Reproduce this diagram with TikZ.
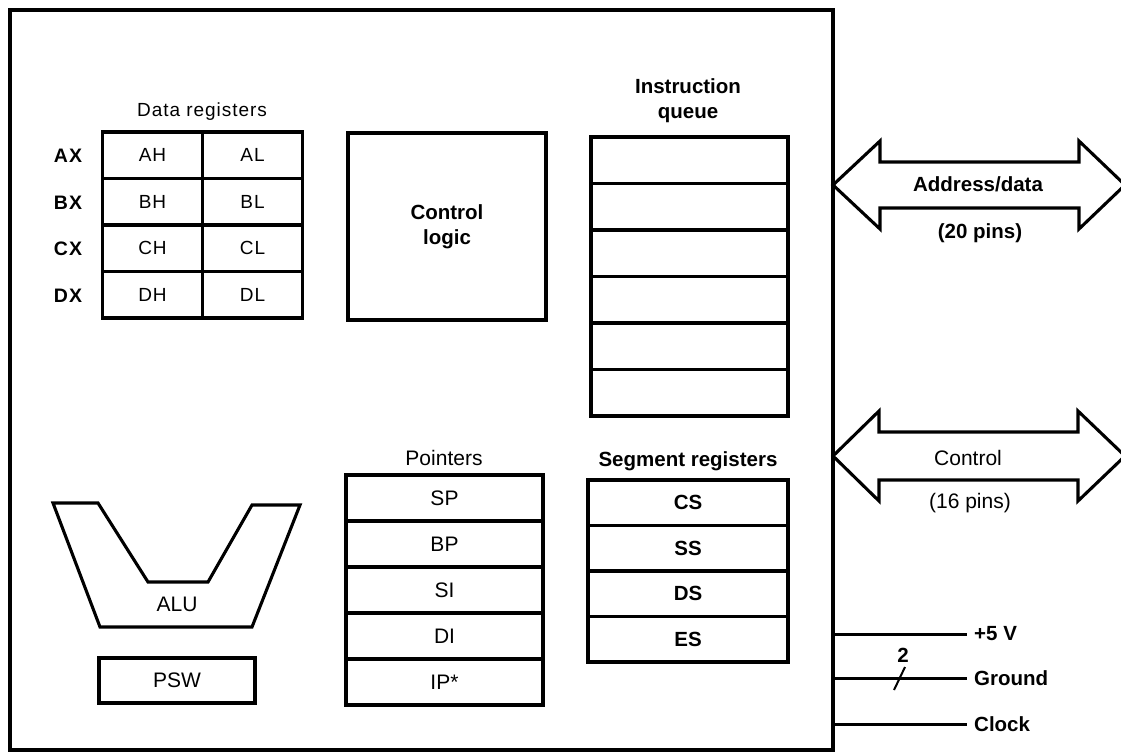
\documentclass[tikz,border=0pt]{standalone}
\usepackage{fontspec}
\setmainfont{Liberation Sans}
\newfontfamily\dataf[LetterSpace=5]{Liberation Sans}
\begin{document}
\begin{tikzpicture}[x=1pt,y=-1pt,
  lbl/.style={font=\fontsize{20.5}{25}\selectfont\bfseries, inner sep=0pt},
  txt/.style={font=\fontsize{21}{25}\selectfont, inner sep=0pt},
  dtxt/.style={font=\dataf\fontsize{19}{22}\selectfont, inner sep=0pt},
  dbold/.style={font=\dataf\bfseries\fontsize{19.5}{22}\selectfont, inner sep=0pt},
  cell/.style={draw, line width=3.1pt, inner sep=0pt, anchor=center},
  thick line/.style={line width=3.1pt, line join=miter},
  pinline/.style={line width=3pt}]
\useasboundingbox (0,0) rectangle (1121,754);

% chip outline
\node[draw, line width=3.3pt, minimum width=823pt, minimum height=740pt, inner sep=0pt] (chip) at (421.5,380) {};

% data registers
\node[dtxt, anchor=base] (dreg) at (202,117) {Data registers};
\foreach \r/\h/\l [count=\i] in {AX/AH/AL, BX/BH/BL, CX/CH/CL, DX/DH/DL}{
  \node[cell, dtxt, minimum width=100pt, minimum height=46.5pt] (\h) at (152.5,{132+46.5*(\i-0.5)}) {\h};
  \node[cell, dtxt, minimum width=100pt, minimum height=46.5pt] (\l) at (252.5,{132+46.5*(\i-0.5)}) {\l};
  \node[dbold] (\r) at (68,{133+46.5*(\i-0.5)}) {\r};
}

% control logic
\node[cell, lbl, minimum width=198pt, minimum height=187pt, align=center] (ctrl) at (447,226.5) {Control\\logic};

% instruction queue
\node[lbl, align=center, anchor=base] (iqlabel) at (688,119) {Instruction\\queue};
\foreach \i in {1,...,6}{
  \node[cell, minimum width=197pt, minimum height=46.5pt] (iq\i) at (689.5,{137+46.5*(\i-0.5)}) {};
}

% ALU and PSW
\draw[thick line] (53,503) -- (98,503) -- (148,582) -- (208,582) -- (252,505) -- (300,505) -- (252,627) -- (100,627) -- cycle;
\node[txt] (alu) at (177,604) {ALU};
\node[cell, txt, minimum width=156pt, minimum height=45pt] (psw) at (177,680.5) {PSW};

% pointers
\node[txt, anchor=base] (ptrlabel) at (444,465) {Pointers};
\foreach \n [count=\i] in {SP,BP,SI,DI,IP*}{
  \node[cell, txt, minimum width=197pt, minimum height=46pt] (p\i) at (444.5,{475+46*(\i-0.5)}) {\n};
}

% segment registers
\node[lbl, anchor=base] (seglabel) at (688,466) {Segment registers};
\foreach \n [count=\i] in {CS,SS,DS,ES}{
  \node[cell, lbl, minimum width=200pt, minimum height=45.5pt] (s\i) at (688,{480+45.5*(\i-0.5)}) {\n};
}

% address/data bus arrow
\draw[thick line] (833,185) -- (880,141) -- (880,162) -- (1079,162) -- (1079,141) -- (1125,185)
  -- (1079,229) -- (1079,208) -- (880,208) -- (880,229) -- cycle;
\node[lbl, anchor=base] (adlabel) at (978,192) {Address/data};
\node[lbl, anchor=base] (adpins) at (980,238) {(20 pins)};

% control bus arrow
\draw[thick line] (833,456) -- (879,411) -- (879,432) -- (1078,432) -- (1078,411) -- (1125,456)
  -- (1078,501) -- (1078,480) -- (879,480) -- (879,501) -- cycle;
\node[txt, anchor=base] (ctlabel) at (968,465) {Control};
\node[txt, anchor=base] (ctpins) at (970,508) {(16 pins)};

% pins
\node[lbl, anchor=west] (v5) at (974,634) {+5 V};
\node[lbl, anchor=west] (gnd) at (974,678) {Ground};
\node[lbl, anchor=west] (clk) at (974,724) {Clock};
\draw[pinline] (chip.east |- v5.west) -- ([xshift=-7pt]v5.west);
\draw[pinline] (chip.east |- gnd.west) -- ([xshift=-7pt]gnd.west);
\draw[pinline] (chip.east |- clk.west) -- ([xshift=-7pt]clk.west);
\draw[line width=2pt] (894,690) -- (905,667);
\node[lbl] (two) at (903,655) {2};
\end{tikzpicture}
\end{document}
